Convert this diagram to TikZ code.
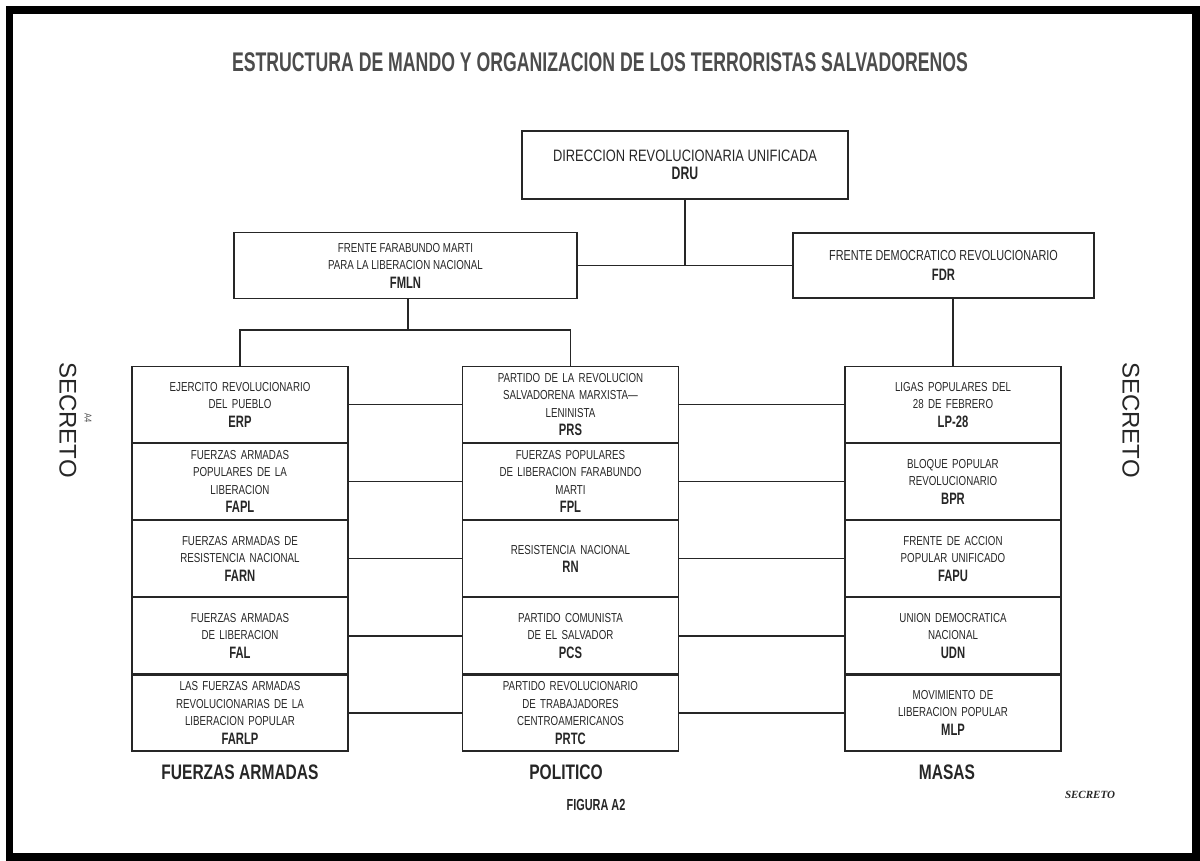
\documentclass[tikz,border=0pt]{standalone}
\usepackage{fontspec}
\setmainfont{Liberation Sans}
\newfontfamily\condfont[FakeStretch=0.75]{Liberation Sans}
\newfontfamily\headfont[FakeStretch=0.68]{Liberation Sans}
\newfontfamily\titlefont[FakeStretch=0.655]{Liberation Sans}
\newfontfamily\capfont[FakeStretch=0.74]{Liberation Sans}
\newfontfamily\stampfont{Liberation Serif}
\usetikzlibrary{positioning}
\newcommand{\abrev}[1]{\\[1pt]{\headfont\fontsize{16.5}{17}\selectfont\bfseries #1}}

\begin{document}
\begin{tikzpicture}[x=1pt, y=-1pt, color=black!85, line width=1.4pt,
  org/.style={draw, line width=1.1pt, align=center, inner sep=0pt, font=\condfont\fontsize{13}{17.5}\selectfont},
  col/.style={org, minimum width=216pt, minimum height=76pt, text width=210pt},
  colname/.style={font=\capfont\bfseries\fontsize{21}{24}\selectfont},
  secret/.style={rotate=-90, font=\fontsize{24}{24}\selectfont}]

\useasboundingbox (0,0) rectangle (1200,860);
\draw[black, line width=7.5pt] (9.5,10) rectangle (1196,857);

\node[font=\titlefont\bfseries\fontsize{27}{30}\selectfont, color=black!70] (title) at (600,62)
  {ESTRUCTURA DE MANDO Y ORGANIZACION DE LOS TERRORISTAS SALVADORENOS};

% top level
\node[org, minimum width=326pt, minimum height=68pt] (dru) at (685,165)
  {{\addfontfeature{FakeStretch=0.78}\fontsize{16.5}{20}\selectfont DIRECCION REVOLUCIONARIA UNIFICADA}\\[1pt]{\headfont\fontsize{18}{18}\selectfont\bfseries DRU}};
\node[org, minimum width=343pt, minimum height=66pt] (fmln) at (405.5,265.5)
  {FRENTE FARABUNDO MARTI\\PARA LA LIBERACION NACIONAL\abrev{FMLN}};
\node[org, minimum width=301pt, minimum height=65pt, font=\condfont\fontsize{14.5}{19}\selectfont] (fdr) at (943.5,265.5)
  {FRENTE DEMOCRATICO REVOLUCIONARIO\abrev{FDR}};

% fuerzas armadas
\node[col, anchor=north] (erp) at (240,366) {EJERCITO REVOLUCIONARIO\\DEL PUEBLO\abrev{ERP}};
\node[col, below=0pt of erp] (fapl) {FUERZAS ARMADAS\\POPULARES DE LA\\LIBERACION\abrev{FAPL}};
\node[col, below=0pt of fapl] (farn) {FUERZAS ARMADAS DE\\RESISTENCIA NACIONAL\abrev{FARN}};
\node[col, below=0pt of farn] (fal) {FUERZAS ARMADAS\\DE LIBERACION\abrev{FAL}};
\node[col, below=0pt of fal] (farlp) {LAS FUERZAS ARMADAS\\REVOLUCIONARIAS DE LA\\LIBERACION POPULAR\abrev{FARLP}};

% politico
\node[col, anchor=north] (prs) at (570.5,366) {PARTIDO DE LA REVOLUCION\\SALVADORENA MARXISTA—\\LENINISTA\abrev{PRS}};
\node[col, below=0pt of prs] (fpl) {FUERZAS POPULARES\\DE LIBERACION FARABUNDO\\MARTI\abrev{FPL}};
\node[col, below=0pt of fpl] (rn) {RESISTENCIA NACIONAL\abrev{RN}};
\node[col, below=0pt of rn] (pcs) {PARTIDO COMUNISTA\\DE EL SALVADOR\abrev{PCS}};
\node[col, below=0pt of pcs] (prtc) {PARTIDO REVOLUCIONARIO\\DE TRABAJADORES\\CENTROAMERICANOS\abrev{PRTC}};

% masas
\node[col, anchor=north] (lp) at (953,366) {LIGAS POPULARES DEL\\28 DE FEBRERO\abrev{LP-28}};
\node[col, below=0pt of lp] (bpr) {BLOQUE POPULAR\\REVOLUCIONARIO\abrev{BPR}};
\node[col, below=0pt of bpr] (fapu) {FRENTE DE ACCION\\POPULAR UNIFICADO\abrev{FAPU}};
\node[col, below=0pt of fapu] (udn) {UNION DEMOCRATICA\\NACIONAL\abrev{UDN}};
\node[col, below=0pt of udn] (mlp) {MOVIMIENTO DE\\LIBERACION POPULAR\abrev{MLP}};

% connectors
\draw (fmln) -- (fdr);
\draw (dru) -- (dru |- fmln.east);
\coordinate (split) at (408,330);
\draw (fmln.south -| split) -- (split);
\draw (erp) |- (split) -| (prs);
\draw (fdr.south -| lp.north) -- (lp);
\foreach \a/\b/\c in {erp/prs/lp, fapl/fpl/bpr, farn/rn/fapu, fal/pcs/udn, farlp/prtc/mlp}
  \draw (\a) -- (\b) -- (\c);

% captions
\node[colname] (fa) at (240,772) {FUERZAS ARMADAS};
\node[colname] (pol) at (566,772) {POLITICO};
\node[colname] (mas) at (947,772) {MASAS};
\node[font=\headfont\bfseries\fontsize{16}{18}\selectfont] (fig) at (596,805) {FIGURA A2};
\node[font=\stampfont\bfseries\itshape\fontsize{11}{12}\selectfont] (stamp) at (1090,795) {SECRETO};

\node[secret] (secl) at (68,420) {SECRETO};
\node[rotate=-90, font=\condfont\fontsize{10}{10}\selectfont, color=black!70] (pag) at (88,418) {A4};
\node[secret] (secr) at (1131,420) {SECRETO};
\end{tikzpicture}
\end{document}
